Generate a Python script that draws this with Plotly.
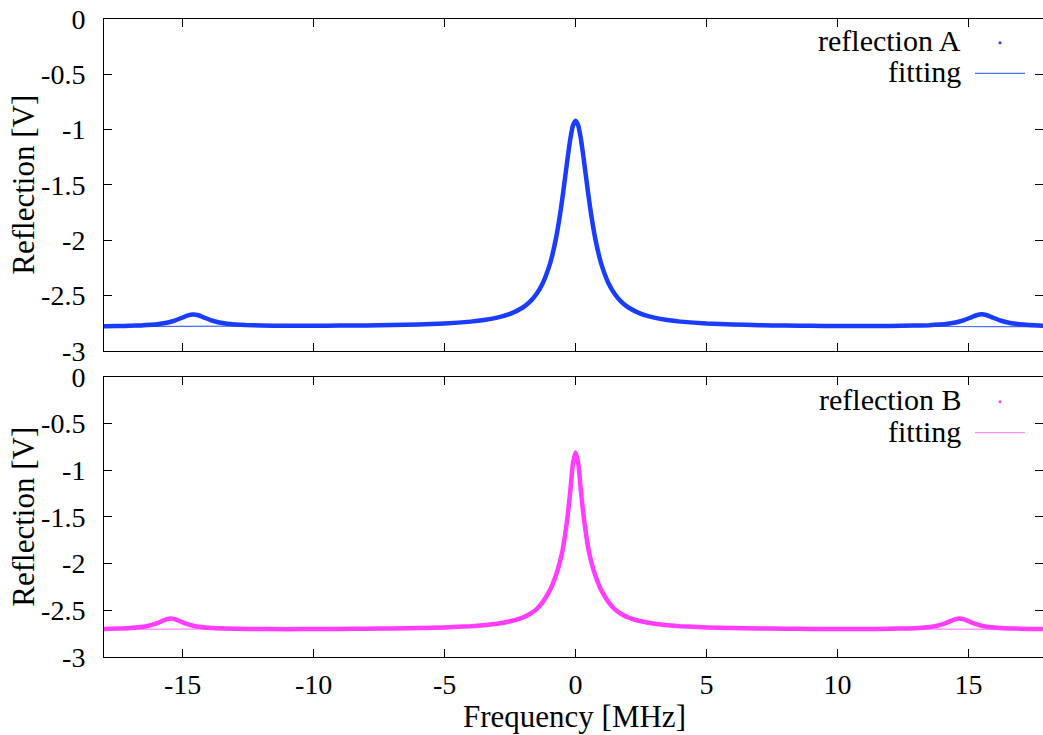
import plotly.graph_objects as go
from plotly.subplots import make_subplots

# ---------------- data ----------------
# reflection A (measured)
freq_a = [-18, -17.5, -17, -16.6, -16.2, -15.9, -15.6, -15.3, -15.0, -14.8, -14.6, -14.4, -14.2,
          -13.9, -13.6, -13.3, -13.0, -12.6, -12, -11, -10, -9, -8, -7, -6, -5, -4, -3.5, -3,
          -2.5, -2, -1.75, -1.5, -1.25, -1, -0.9, -0.75, -0.6, -0.5, -0.4, -0.3, -0.2, -0.1, 0,
          0.1, 0.2, 0.3, 0.4, 0.5, 0.6, 0.75, 0.9, 1, 1.25, 1.5, 1.75, 2, 2.5, 3, 3.5, 4, 5, 6,
          7, 8, 9, 10, 11, 12, 12.9, 13.5, 13.9, 14.2, 14.5, 14.8, 15.1, 15.3, 15.5, 15.7, 15.9,
          16.2, 16.5, 16.8, 17.1, 17.5, 18]
refl_a = [-2.779, -2.777, -2.774, -2.771, -2.765, -2.758, -2.747, -2.728, -2.700, -2.681, -2.673,
          -2.679, -2.698, -2.726, -2.745, -2.756, -2.762, -2.768, -2.772, -2.775, -2.774, -2.773,
          -2.771, -2.768, -2.762, -2.754, -2.737, -2.723, -2.701, -2.667, -2.607, -2.559, -2.490,
          -2.388, -2.231, -2.146, -1.985, -1.778, -1.613, -1.432, -1.248, -1.081, -0.963, -0.920,
          -0.963, -1.081, -1.248, -1.432, -1.613, -1.778, -1.985, -2.146, -2.231, -2.388, -2.490,
          -2.559, -2.607, -2.667, -2.701, -2.723, -2.737, -2.754, -2.763, -2.769, -2.773, -2.775,
          -2.776, -2.776, -2.776, -2.773, -2.769, -2.763, -2.756, -2.745, -2.726, -2.698, -2.679,
          -2.671, -2.679, -2.698, -2.726, -2.745, -2.757, -2.764, -2.770, -2.775]

# fitting A
fit_freq_a = [-18, -16, -14, -12, -10, -9, -8, -7, -6, -5, -4, -3.5, -3, -2.5, -2, -1.75, -1.5,
              -1.25, -1, -0.9, -0.75, -0.6, -0.5, -0.4, -0.3, -0.2, -0.1, 0, 0.1, 0.2, 0.3, 0.4,
              0.5, 0.6, 0.75, 0.9, 1, 1.25, 1.5, 1.75, 2, 2.5, 3, 3.5, 4, 5, 6, 7, 8, 9, 10, 12,
              14, 16, 18]
fit_a = [-2.783, -2.782, -2.781, -2.780, -2.777, -2.775, -2.773, -2.769, -2.763, -2.754, -2.737,
         -2.723, -2.701, -2.667, -2.607, -2.559, -2.490, -2.388, -2.231, -2.146, -1.985, -1.778,
         -1.613, -1.432, -1.248, -1.081, -0.963, -0.920, -0.963, -1.081, -1.248, -1.432, -1.613,
         -1.778, -1.985, -2.146, -2.231, -2.388, -2.490, -2.559, -2.607, -2.667, -2.701, -2.723,
         -2.737, -2.754, -2.763, -2.769, -2.773, -2.775, -2.777, -2.780, -2.781, -2.782, -2.783]

# reflection B (measured)
freq_b = [-18, -17.5, -17, -16.6, -16.3, -16.0, -15.75, -15.6, -15.45, -15.3, -15.15, -14.9,
          -14.6, -14.3, -13.9, -13.4, -12.5, -11, -10, -9, -8, -7, -6, -5, -4, -3.5, -3, -2.5,
          -2, -1.75, -1.5, -1.25, -1, -0.9, -0.75, -0.6, -0.5, -0.4, -0.3, -0.2, -0.1, 0,
          0.1, 0.2, 0.3, 0.4, 0.5, 0.6, 0.75, 0.9, 1, 1.25, 1.5, 1.75, 2, 2.5, 3, 3.5, 4, 5, 6,
          7, 8, 9, 10, 11, 12, 12.7, 13.1, 13.5, 13.8, 14.1, 14.35, 14.5, 14.65, 14.8, 14.95,
          15.2, 15.5, 15.8, 16.2, 16.7, 17.3, 18]
refl_b = [-2.699, -2.696, -2.690, -2.680, -2.666, -2.641, -2.611, -2.594, -2.587, -2.594, -2.611,
          -2.641, -2.666, -2.680, -2.690, -2.695, -2.700, -2.702, -2.700, -2.699, -2.697, -2.694,
          -2.690, -2.683, -2.670, -2.659, -2.644, -2.618, -2.575, -2.540, -2.490, -2.410, -2.295,
          -2.235, -2.125, -1.985, -1.860, -1.690, -1.480, -1.215, -0.925, -0.810,
          -0.925, -1.215, -1.480, -1.690, -1.860, -1.985, -2.125, -2.235, -2.295, -2.410, -2.490,
          -2.540, -2.575, -2.618, -2.644, -2.659, -2.670, -2.683, -2.690, -2.694, -2.697, -2.699,
          -2.700, -2.701, -2.697, -2.694, -2.689, -2.679, -2.665, -2.641, -2.611, -2.594, -2.587,
          -2.594, -2.611, -2.641, -2.666, -2.680, -2.690, -2.695, -2.699, -2.701]

# fitting B
fit_freq_b = [-18, -16, -14, -12, -10, -9, -8, -7, -6, -5, -4, -3.5, -3, -2.5, -2, -1.75, -1.5,
              -1.25, -1, -0.9, -0.75, -0.6, -0.5, -0.4, -0.3, -0.2, -0.1, 0, 0.1, 0.2, 0.3, 0.4,
              0.5, 0.6, 0.75, 0.9, 1, 1.25, 1.5, 1.75, 2, 2.5, 3, 3.5, 4, 5, 6, 7, 8, 9, 10, 12,
              14, 16, 18]
fit_b = [-2.705, -2.704, -2.703, -2.702, -2.700, -2.699, -2.697, -2.694, -2.690, -2.683, -2.670,
         -2.659, -2.644, -2.618, -2.575, -2.540, -2.490, -2.410, -2.295, -2.235, -2.125, -1.985,
         -1.860, -1.690, -1.480, -1.215, -0.925, -0.810, -0.925, -1.215, -1.480, -1.690, -1.860,
         -1.985, -2.125, -2.235, -2.295, -2.410, -2.490, -2.540, -2.575, -2.618, -2.644, -2.659,
         -2.670, -2.683, -2.690, -2.694, -2.697, -2.699, -2.700, -2.702, -2.703, -2.704, -2.705]

x_ticks = [-15, -10, -5, 0, 5, 10, 15]
x_tick_labels = ["-15", "-10", "-5", "0", "5", "10", "15"]
y_ticks = [0, -0.5, -1, -1.5, -2, -2.5, -3]
y_tick_labels = ["0", "-0.5", "-1", "-1.5", "-2", "-2.5", "-3"]

COL_A = "#1a3cff"
COL_A_FIT = "#4a6cff"
COL_B = "#ff3cff"
COL_B_FIT = "#ff8cff"
FONT = "'Times New Roman', 'Liberation Serif', 'DejaVu Serif', Times, serif"

# ---------------- figure ----------------
W, H = 1043, 735
ML, MR, MT, MB = 104, 0, 19, 78
PW, PH = W - ML - MR, H - MT - MB

def px_x(p):
    return (p - ML) / PW

def px_y(p):
    return (H - MB - p) / PH

fig = make_subplots(rows=2, cols=1, shared_xaxes=True, vertical_spacing=0.04)

fig.add_trace(go.Scatter(x=fit_freq_a, y=fit_a, mode="lines", line=dict(color=COL_A_FIT, width=1.2),
                         showlegend=False, hoverinfo="skip"), row=1, col=1)
fig.add_trace(go.Scatter(x=freq_a, y=refl_a, mode="lines", name="reflection A",
                         line=dict(color=COL_A, width=4.5, shape="spline", smoothing=0.5),
                         showlegend=False), row=1, col=1)
fig.add_trace(go.Scatter(x=fit_freq_b, y=fit_b, mode="lines", line=dict(color=COL_B_FIT, width=1.2),
                         showlegend=False, hoverinfo="skip"), row=2, col=1)
fig.add_trace(go.Scatter(x=freq_b, y=refl_b, mode="lines", name="reflection B",
                         line=dict(color=COL_B, width=4.5, shape="spline", smoothing=0.5),
                         showlegend=False), row=2, col=1)

x_right = -18 + PW / 26.2
axis_common = dict(showgrid=False, zeroline=False, showline=True, linecolor="black", linewidth=1,
                   mirror="allticks", ticks="inside", ticklen=8, tickwidth=1, tickcolor="black",
                   tickfont=dict(family=FONT, size=28, color="black"))

fig.update_xaxes(range=[-18, x_right], tickvals=x_ticks, ticktext=x_tick_labels, **axis_common)
fig.update_xaxes(showticklabels=False, row=1, col=1)
fig.update_xaxes(ticklabelstandoff=2, row=2, col=1)
fig.update_yaxes(range=[-3, 0], tickvals=y_ticks, ticktext=y_tick_labels, ticklabelstandoff=12,
                 **axis_common)

top_lo = px_y(350.7)
bot_hi = px_y(376.7)
fig.update_layout(
    width=W, height=H,
    margin=dict(l=ML, r=MR, t=MT, b=MB, pad=0),
    paper_bgcolor="white", plot_bgcolor="white",
    font=dict(family=FONT, size=28, color="black"),
    showlegend=False,
    yaxis=dict(domain=[top_lo, 1]),
    yaxis2=dict(domain=[0, bot_hi]),
)

# axis titles
fig.add_annotation(text="Frequency [MHz]", xref="paper", yref="paper", x=px_x(574), y=px_y(716),
                   xanchor="center", yanchor="middle", showarrow=False,
                   font=dict(family=FONT, size=31, color="black"))
for yc in (184.7, 516.7):
    fig.add_annotation(text="Reflection [V]", xref="paper", yref="paper", x=px_x(24), y=px_y(yc),
                       xanchor="center", yanchor="middle", textangle=-90, showarrow=False,
                       font=dict(family=FONT, size=31, color="black"))

# gnuplot-style keys (text right-aligned, sample to the right)
keys = [
    ("reflection A", 41, "dot", COL_A),
    ("fitting", 71.6, "line", COL_A_FIT),
    ("reflection B", 400, "dot", COL_B),
    ("fitting", 431, "line", COL_B_FIT),
]
for label, yc, kind, col in keys:
    fig.add_annotation(text=label, xref="paper", yref="paper", x=px_x(963), y=px_y(yc),
                       xanchor="right", yanchor="middle", showarrow=False,
                       font=dict(family=FONT, size=30, color="black"))
    if kind == "dot":
        fig.add_shape(type="circle", xref="paper", yref="paper", xsizemode="pixel",
                      ysizemode="pixel", xanchor=px_x(1000), yanchor=px_y(yc + 1.7),
                      x0=-1.5, x1=1.5, y0=-1.5, y1=1.5, fillcolor=col, line=dict(width=0))
    else:
        fig.add_shape(type="line", xref="paper", yref="paper", x0=px_x(975), x1=px_x(1025),
                      y0=px_y(yc + 1.7), y1=px_y(yc + 1.7), line=dict(color=col, width=1.2))

fig.write_html("out.html", config={"displayModeBar": False},
               post_script="document.body.style.margin='0';")
